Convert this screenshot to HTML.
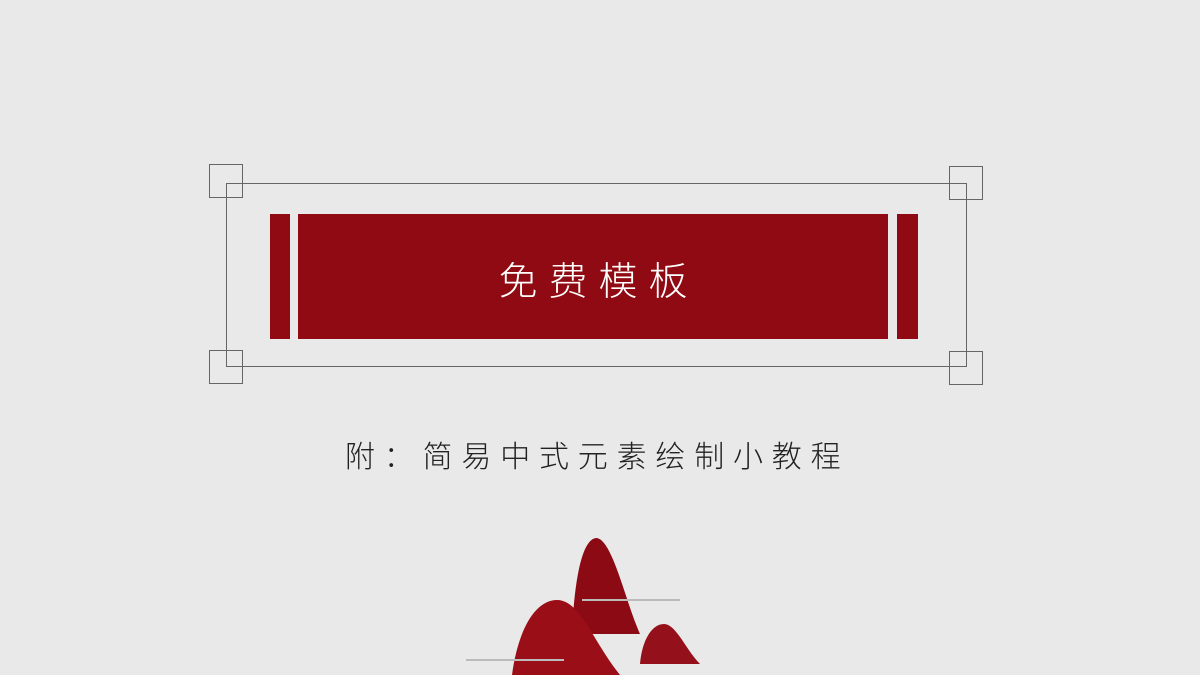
<!DOCTYPE html>
<html><head><meta charset="utf-8"><style>
html,body{margin:0;padding:0}
body{width:1200px;height:675px;overflow:hidden;background:#e9e9e9;position:relative;font-family:"Liberation Sans","Noto Sans CJK SC",sans-serif}
.abs{position:absolute}
.sq{position:absolute;width:34px;height:34px;border:1px solid #666;box-sizing:border-box}
.red{position:absolute;background:#8f0a12}
</style></head><body>
<div class="abs" style="left:226px;top:183px;width:741px;height:184px;border:1px solid #666;box-sizing:border-box"></div>
<div class="sq" style="left:209px;top:164px"></div>
<div class="sq" style="left:949px;top:166px"></div>
<div class="sq" style="left:209px;top:350px"></div>
<div class="sq" style="left:949px;top:351px"></div>
<div class="red" style="left:270px;top:214px;width:20px;height:125px"></div>
<div class="red" style="left:298px;top:214px;width:590px;height:125px"></div>
<div class="red" style="left:897px;top:214px;width:21px;height:125px"></div>
<div class="abs" style="left:298px;top:260px;width:590px;text-align:center;color:#fff;font-size:39px;line-height:46px;letter-spacing:11px;font-weight:300;padding-left:11px;box-sizing:border-box">免费模板</div>
<div class="abs" style="left:345px;top:438px;color:#222;font-size:30px;line-height:40px;letter-spacing:8.8px;white-space:nowrap;font-weight:300">附：简易中式元素绘制小教程</div>
<svg class="abs" style="left:0;top:0" width="1200" height="675">
<path d="M572,634 C574,590 580,540 596,538 C612,538 625,600 640,634 Z" fill="#8c0a14"/>
<path d="M640,664 C642,640 652,624 664,624 C676,624 686,650 700,664 Z" fill="#94101a"/>
<path d="M512,675 C518,630 535,600 557,600 C580,600 592,640 620,675 Z" fill="#9a0e18"/>
<line x1="582" y1="600" x2="680" y2="600" stroke="#bbb" stroke-width="2"/>
<line x1="466" y1="660" x2="564" y2="660" stroke="#bbb" stroke-width="2"/>
</svg>
</body></html>
